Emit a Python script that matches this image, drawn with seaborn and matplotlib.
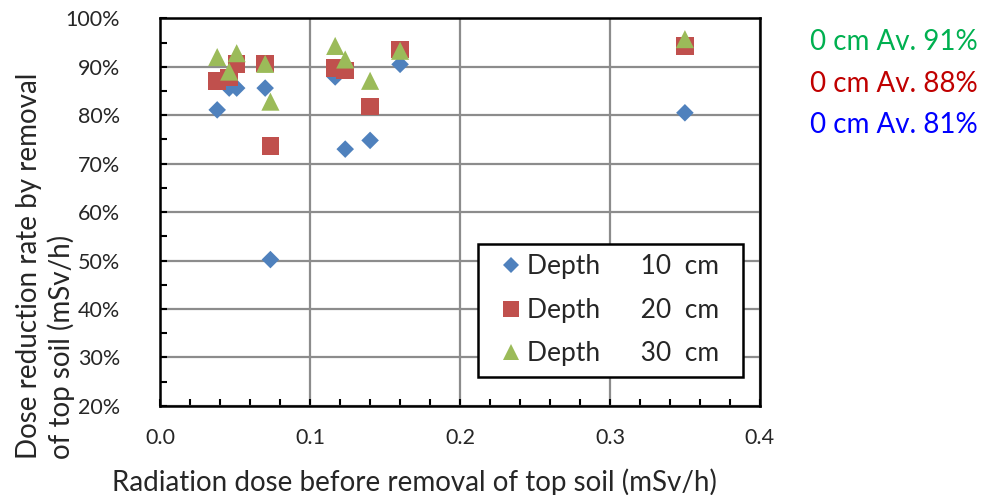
import pandas as pd
import matplotlib
matplotlib.use("Agg")
import matplotlib.pyplot as plt
import seaborn as sns
from matplotlib.lines import Line2D
from matplotlib.ticker import MultipleLocator, PercentFormatter

# ---- data ----
dose_before = [0.038, 0.046, 0.051, 0.070, 0.0735, 0.1167, 0.1234, 0.140, 0.160, 0.350]
depth10 = [81.1, 85.6, 85.6, 85.6, 50.2, 87.9, 73.0, 74.8, 90.5, 80.5]
depth20 = [87.1, 87.8, 90.6, 90.7, 73.7, 89.7, 89.2, 81.8, 93.6, 94.3]
depth30 = [92.0, 89.0, 92.8, 90.6, 82.8, 94.3, 91.5, 87.1, 93.3, 95.7]

depth_labels = ["Depth      10  cm", "Depth      20  cm", "Depth      30  cm"]
avg_texts = ["0 cm Av. 91%", "0 cm Av. 88%", "0 cm Av. 81%"]
avg_colors = ["#00B050", "#C00000", "#0000FF"]

colors = ["#4F81BD", "#C0504D", "#9BBB59"]
markers = ["D", "s", "^"]
sizes = [80, 160, 170]

sns.set_style("ticks")
plt.rcParams["font.family"] = ["Lato", "DejaVu Sans"]

df = pd.concat([
    pd.DataFrame({"x": dose_before, "y": vals, "depth": lab})
    for vals, lab in zip([depth10, depth20, depth30], depth_labels)
])

fig = plt.figure(figsize=(9.83, 4.95), dpi=100)
ax = fig.add_axes([0.163, 0.180, 0.610, 0.783])

for (lab, sub), c, m, s in zip(df.groupby("depth", sort=False), colors, markers, sizes):
    sns.scatterplot(data=sub, x="x", y="y", color=c, marker=m, s=s,
                    edgecolor="none", linewidth=0, ax=ax, zorder=3)

ax.set_xlim(0, 0.4)
ax.set_ylim(20, 100)
ax.xaxis.set_major_locator(MultipleLocator(0.1))
ax.xaxis.set_minor_locator(MultipleLocator(0.02))
ax.yaxis.set_major_locator(MultipleLocator(10))
ax.yaxis.set_minor_locator(MultipleLocator(5))
ax.yaxis.set_major_formatter(PercentFormatter(100, decimals=0))
ax.xaxis.set_major_formatter(lambda v, p: f"{v:.1f}")

ax.grid(which="major", color="#8c8c8c", linewidth=1.6)
ax.set_axisbelow(True)
for sp in ax.spines.values():
    sp.set_visible(True)
    sp.set_color("black")
    sp.set_linewidth(1.8)

ax.tick_params(which="both", direction="in", length=5, width=1.5, color="black",
               labelsize=15.5)
ax.tick_params(axis="y", which="major", pad=29)
ax.tick_params(axis="x", which="major", pad=16)
ax.set_xlabel("")
ax.set_ylabel("")

fig.text(0.046, 0.463, "Dose reduction rate by removal\nof top soil (mSv/h)",
         rotation=90, ha="center", va="center", multialignment="left",
         fontsize=20, linespacing=1.25)
fig.text(0.422, 0.026, "Radiation dose before removal of top soil (mSv/h)",
         ha="center", va="center", fontsize=20)

handles = [Line2D([], [], linestyle="none", marker=m, color=c,
                  markersize=(s ** 0.5) * 0.9, markeredgewidth=0)
           for c, m, s in zip(colors, markers, sizes)]
leg = ax.legend(handles, [l + "  " for l in depth_labels], loc="lower left",
                bbox_to_anchor=(0.53, 0.075), borderaxespad=0, fontsize=19,
                frameon=True, fancybox=False, edgecolor="black", framealpha=1,
                handlelength=1.67, handletextpad=-0.23, labelspacing=0.7,
                borderpad=0.4)
leg.get_frame().set_linewidth(1.8)

for i, (t, c) in enumerate(zip(avg_texts, avg_colors)):
    fig.text(0.824, 1 - (42 + 41.5 * i) / 495, t, color=c, fontsize=20,
             ha="left", va="center")

fig.savefig("out.png", dpi=100)
